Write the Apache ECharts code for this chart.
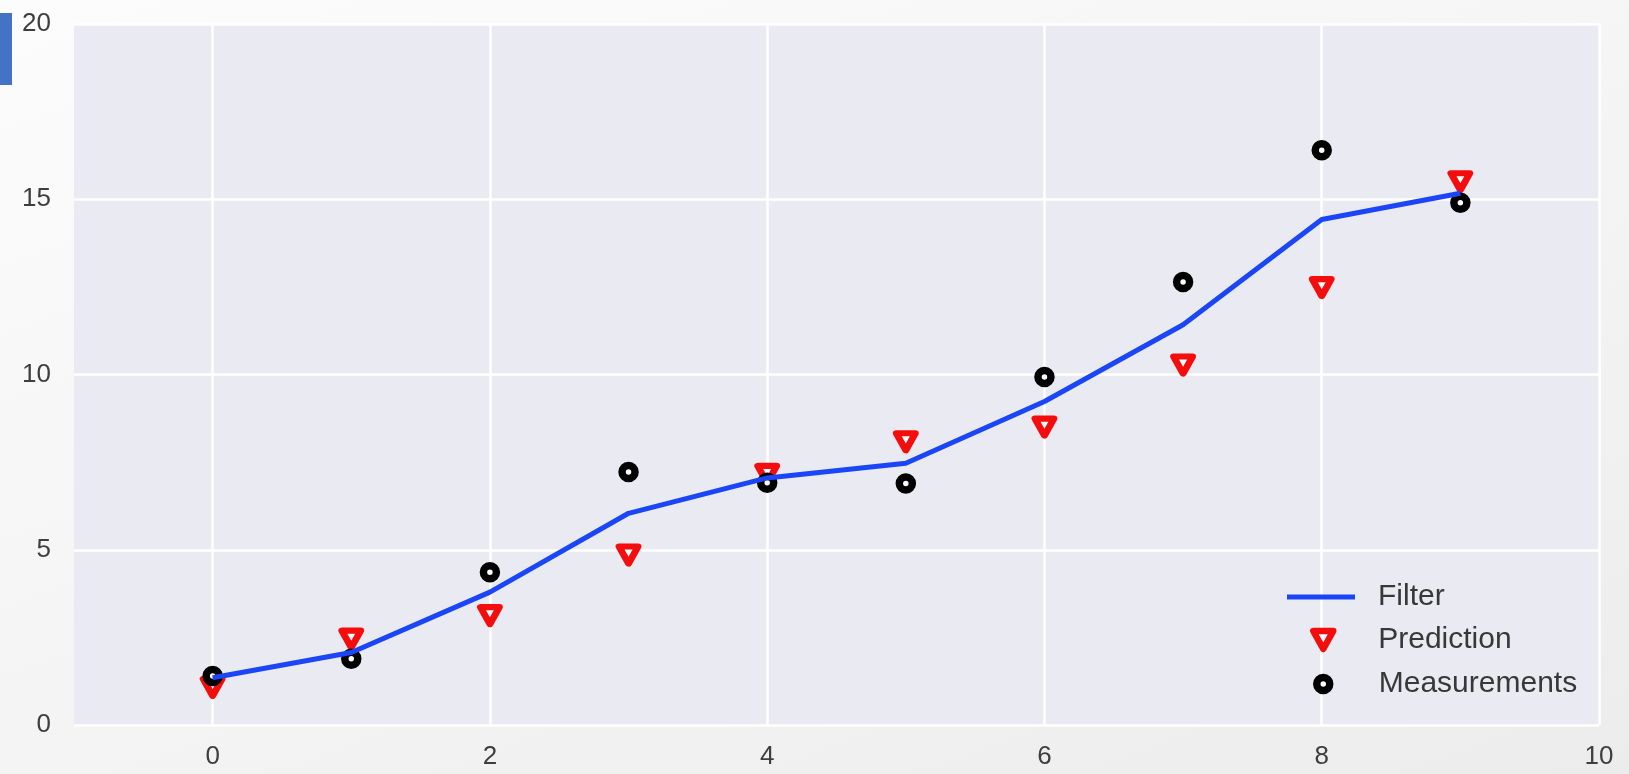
<!DOCTYPE html>
<html>
<head>
<meta charset="utf-8">
<script src="https://cdn.jsdelivr.net/npm/echarts@6/dist/echarts.min.js"></script>
<style>
  html, body { margin: 0; padding: 0; }
  body { background: linear-gradient(160deg, #fcfcfc 0%, #f3f3f3 60%, #ececec 100%); }
  #main { width: 1629px; height: 774px; }
</style>
</head>
<body>
<div id="main"></div>
<script>
// step index
var steps = [0, 1, 2, 3, 4, 5, 6, 7, 8, 9];
// filter output (line)
var filterVals = [1.35, 2.07, 3.79, 6.04, 7.05, 7.47, 9.23, 11.42, 14.42, 15.17];
// predictions (red triangles)
var predictionVals = [1.07, 2.45, 3.12, 4.85, 7.15, 8.08, 8.5, 10.27, 12.48, 15.5];
// measurements (black circles)
var measurementVals = [1.4, 1.89, 4.36, 7.22, 6.91, 6.89, 9.93, 12.64, 16.4, 14.9];
// tick labels
var xTicks = [0, 2, 4, 6, 8, 10];

function pairs(vals) {
    return steps.map(function (x, i) { return [x, vals[i]]; });
}

var font = "Arial, 'Liberation Sans', sans-serif";
var triDown = 'path://M0,0 L10,0 L5,9 Z';
var blue = '#1b46f7';
var red = '#f50d0d';

var predStyle = { color: '#ffffff', borderColor: red, borderWidth: 6.5, borderJoin: 'round', opacity: 1 };
var measStyle = { color: '#ffffff', borderColor: '#000000', borderWidth: 7.5, opacity: 1 };

var chart = echarts.init(document.getElementById('main'));

function legendItem(opts, pad) {
    return Object.assign({
        orient: 'vertical',
        padding: 0,
        selectedMode: false,
        textStyle: {
            fontFamily: font,
            fontSize: 30,
            lineHeight: 30,
            color: '#383838',
            padding: [0, 0, 0, pad]
        }
    }, opts);
}

option = {
    backgroundColor: 'transparent',
    animation: false,
    graphic: [{
        type: 'rect',
        left: 0,
        top: 13,
        shape: { width: 12, height: 72 },
        style: { fill: '#4472c4' }
    }],
    grid: {
        left: 74,
        right: 30,
        top: 24,
        bottom: 49,
        show: true,
        backgroundColor: '#eaeaf2',
        borderWidth: 0
    },
    legend: [
        legendItem({
            left: 1287, top: 582, itemWidth: 68, itemHeight: 5,
            data: [{ name: 'Filter', icon: 'rect', itemStyle: { color: blue, borderWidth: 0 } }]
        }, 18),
        legendItem({
            left: 1310, top: 625, itemWidth: 20, itemHeight: 18,
            data: [{ name: 'Prediction', icon: triDown, itemStyle: predStyle }]
        }, 40),
        legendItem({
            left: 1313, top: 669, itemWidth: 13, itemHeight: 13,
            data: [{ name: 'Measurements', icon: 'circle', itemStyle: measStyle }]
        }, 44)
    ],
    xAxis: {
        type: 'value',
        min: -1,
        max: 10,
        axisLine: { show: false },
        axisTick: { show: false, customValues: xTicks },
        axisLabel: {
            customValues: xTicks,
            fontFamily: font,
            fontSize: 26,
            color: '#3e3e3e',
            margin: 19
        },
        splitLine: { lineStyle: { color: '#ffffff', width: 2.5 } }
    },
    yAxis: {
        type: 'value',
        min: 0,
        max: 20,
        interval: 5,
        axisLine: { show: false },
        axisTick: { show: false },
        axisLabel: {
            fontFamily: font,
            fontSize: 26,
            color: '#3e3e3e',
            margin: 23,
            padding: [0, 0, 10, 0]
        },
        splitLine: { lineStyle: { color: '#ffffff', width: 2.5 } }
    },
    series: [
        {
            name: 'Filter',
            type: 'line',
            symbol: 'none',
            z: 5,
            data: pairs(filterVals),
            lineStyle: { color: blue, width: 5 },
            itemStyle: { color: blue }
        },
        {
            name: 'Prediction',
            type: 'scatter',
            symbol: triDown,
            symbolSize: [19, 17],
            z: 3,
            data: pairs(predictionVals),
            itemStyle: predStyle
        },
        {
            name: 'Measurements',
            type: 'scatter',
            symbol: 'circle',
            symbolSize: 13,
            z: 4,
            data: pairs(measurementVals),
            itemStyle: measStyle
        }
    ]
};

chart.setOption(option);
</script>
</body>
</html>
